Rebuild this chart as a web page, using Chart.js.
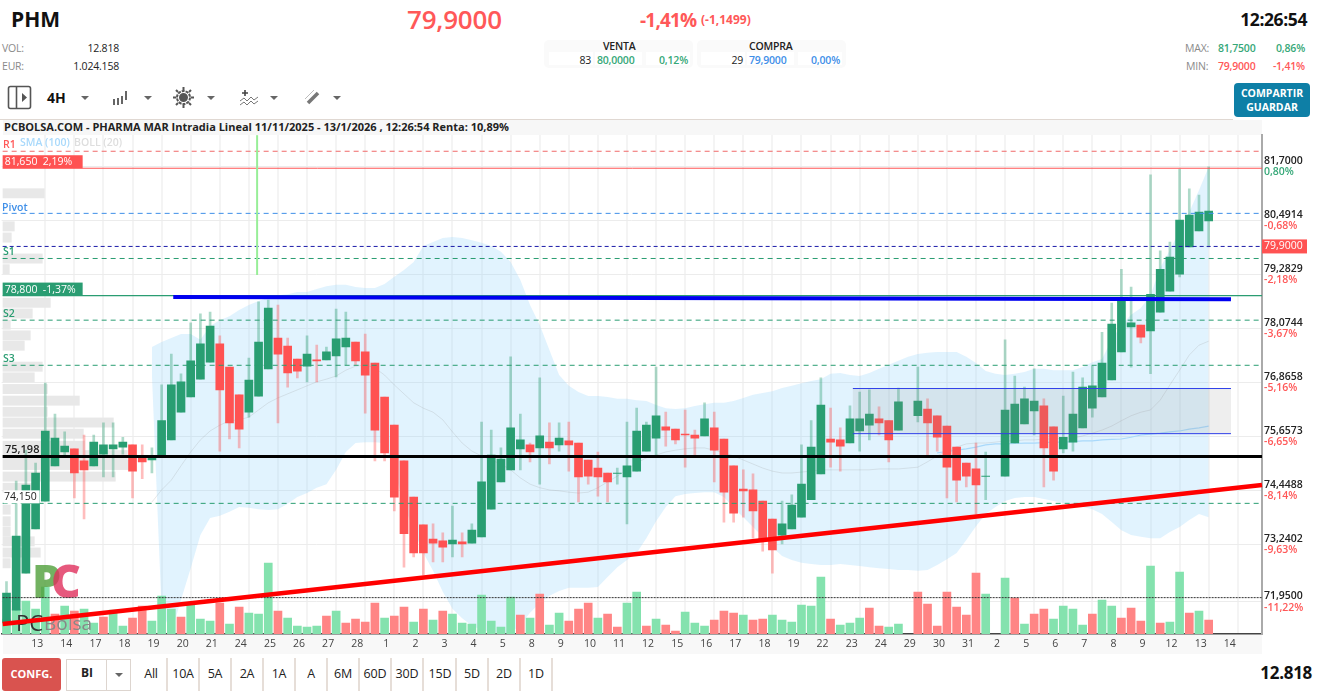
<!DOCTYPE html>
<html lang="es">
<head>
<meta charset="utf-8">
<title>PHM</title>
<script src="https://cdn.jsdelivr.net/npm/chart.js@4"></script>
<style>
    html, body { margin: 0; padding: 0; background: #fff; overflow: hidden; }
    #page { position: relative; width: 1325px; height: 693px; font-family: "Open Sans", sans-serif; color: #222; overflow: hidden; }
    #page span, #page div { position: absolute; white-space: nowrap; }
    .sm { font-size: 10.5px; line-height: 14px; letter-spacing: -0.2px; }
    .gray { color: #8a8a8a; }
    .green { color: #36a878; }
    .red { color: #ff5858; }
    .blue { color: #3f8fe8; }
    .panel { background: #fafafa; border-radius: 5px; top: 40px; height: 28px; width: 149px; }
    .cell { background: #fff; top: 52px; height: 13px; }
    .range { top: 658px; height: 33px; line-height: 31px; font-size: 12.5px; text-align: center; width: 32px; border-right: 2px solid #e6ded8; box-sizing: border-box; letter-spacing: -0.2px; }
    .caret { width: 0; height: 0; border-left: 4px solid transparent; border-right: 4px solid transparent; border-top: 4px solid #666; top: 96px; }
    canvas { position: absolute; left: 0; top: 120px; }
</style>
</head>
<body>
<div id="page">
    <span style="left:11px;top:5px;font-size:21px;line-height:28px;font-weight:700;color:#111">PHM</span>
    <span class="red" style="left:407px;top:3px;font-size:26px;line-height:32px;font-weight:600;letter-spacing:-0.2px">79,9000</span>
    <span class="red" style="left:640px;top:5px;font-size:19px;line-height:30px;font-weight:700;letter-spacing:-0.8px">-1,41%</span>
    <span class="red" style="left:701px;top:12px;font-size:12px;line-height:16px;font-weight:700">(-1,1499)</span>
    <span style="right:18px;top:8px;font-size:17.5px;line-height:22px;font-weight:700;color:#111;letter-spacing:-0.4px">12:26:54</span>

    <span class="sm gray" style="left:2px;top:41px">VOL:</span>
    <span class="sm" style="right:1206px;top:41px">12.818</span>
    <span class="sm gray" style="left:2px;top:59px">EUR:</span>
    <span class="sm" style="right:1206px;top:59px">1.024.158</span>

    <div class="panel" style="left:544px"></div>
    <div class="panel" style="left:697px"></div>
    <div class="cell" style="left:549px;width:44px"></div>
    <div class="cell" style="left:595px;width:47px"></div>
    <div class="cell" style="left:646px;width:44px"></div>
    <div class="cell" style="left:701px;width:44px"></div>
    <div class="cell" style="left:747px;width:47px"></div>
    <div class="cell" style="left:798px;width:44px"></div>
    <span class="sm" style="left:603px;top:39px;font-weight:600">VENTA</span>
    <span class="sm" style="left:749px;top:39px;font-weight:600">COMPRA</span>
    <span class="sm" style="right:734px;top:53px">83</span>
    <span class="sm green" style="left:597px;top:53px;font-weight:600">80,0000</span>
    <span class="sm green" style="right:637px;top:53px;font-weight:600">0,12%</span>
    <span class="sm" style="right:582px;top:53px">29</span>
    <span class="sm blue" style="left:749px;top:53px;font-weight:600">79,9000</span>
    <span class="sm blue" style="right:485px;top:53px;font-weight:600">0,00%</span>

    <span class="sm gray" style="left:1185px;top:41px">MAX:</span>
    <span class="sm green" style="left:1218px;top:41px;font-weight:600">81,7500</span>
    <span class="sm green" style="right:20px;top:41px;font-weight:600">0,86%</span>
    <span class="sm gray" style="left:1186px;top:59px">MIN:</span>
    <span class="sm red" style="left:1218px;top:59px;font-weight:600">79,9000</span>
    <span class="sm red" style="right:20px;top:59px;font-weight:600">-1,41%</span>

    <!-- barra de herramientas -->
    <svg style="position:absolute;left:7px;top:85px" width="26" height="25" viewBox="0 0 26 25" fill="none" stroke="#555" stroke-width="1.6"><rect x="1.5" y="1.5" width="22" height="22" rx="2"/><line x1="9.5" y1="2" x2="9.5" y2="23"/><path d="M15 8l5 4.5-5 4.5z" fill="#555" stroke="none"/></svg>
    <span style="left:47px;top:88px;font-size:14px;line-height:20px;font-weight:700;color:#111">4H</span>
    <div class="caret" style="left:81px"></div>
    <svg style="position:absolute;left:111px;top:88px" width="20" height="20" viewBox="0 0 20 20" fill="#666"><rect x="2" y="11" width="2" height="6"/><rect x="6" y="10" width="2" height="7"/><rect x="10" y="8" width="2" height="8"/><rect x="14" y="3" width="2" height="9"/></svg>
    <div class="caret" style="left:144px"></div>
    <svg style="position:absolute;left:172px;top:86px" width="23" height="23" viewBox="0 0 23 23" fill="none" stroke="#555" stroke-width="2"><circle cx="11.5" cy="11.5" r="6.5" stroke-dasharray="3 1"/><circle cx="11.5" cy="11.5" r="3.5" fill="#555"/><path d="M11.5 1v3M11.5 19v3M1 11.5h3M19 11.5h3M4 4l2 2M17 17l2 2M19 4l-2 2M6 17l-2 2"/></svg>
    <div class="caret" style="left:207px"></div>
    <svg style="position:absolute;left:239px;top:88px" width="20" height="20" viewBox="0 0 20 20" fill="none" stroke="#777" stroke-width="1"><path d="M1 13l4-3 3 3 4-4 3 3 4-3M1 17l4-3 3 3 4-4 3 3 4-3"/><path d="M6 2v6M3 5h6" stroke="#444" stroke-width="1.6"/></svg>
    <div class="caret" style="left:270px"></div>
    <svg style="position:absolute;left:303px;top:88px" width="19" height="19" viewBox="0 0 19 19" fill="none" stroke="#777" stroke-width="3.5"><path d="M5 15L15 5"/><path d="M2 11L11 2" stroke="#bbb" stroke-width="1"/></svg>
    <div class="caret" style="left:333px"></div>

    <div style="left:1234px;top:83px;width:76px;height:34px;background:#0e7fa6;border-radius:4px;color:#fff;font-size:10.5px;font-weight:700;line-height:14px;text-align:center;padding-top:3px;box-sizing:border-box;white-space:normal">COMPARTIR<br>GUARDAR</div>

    <div style="left:0;top:119px;width:1233px;height:1px;background:#e0d8d2"></div>
    <div style="left:3px;top:120px;width:1259px;height:15px;background:#f7f7f7"></div>
    <span class="sm" style="left:4px;top:120px;font-size:11px;font-weight:700;color:#222;letter-spacing:0">PCBOLSA.COM - PHARMA MAR Intradia Lineal 11/11/2025 - 13/1/2026 , 12:26:54 Renta: 10,89%</span>

    <div style="left:3px;top:634px;width:1259px;height:20px;background:#f8f8f8"></div>
    <canvas id="grafico" width="1325" height="534"></canvas>

    <!-- rangos de abajo -->
    <div style="left:2px;top:658px;width:59px;height:33px;background:#d9534f;border-radius:3px;color:#fff;font-size:11px;font-weight:700;line-height:31px;text-align:center">CONFG.</div>
    <div style="left:66px;top:659px;width:65px;height:32px;border:1px solid #ddd5cf;box-sizing:border-box"></div>
    <div style="left:106px;top:659px;width:1px;height:32px;background:#ddd5cf"></div>
    <span style="left:81px;top:664px;font-size:12px;line-height:18px;font-weight:700">BI</span>
    <div class="caret" style="left:115px;top:673px"></div>
    <div class="range" style="left:136px">All</div>
    <div class="range" style="left:168px">10A</div>
    <div class="range" style="left:200px">5A</div>
    <div class="range" style="left:232px">2A</div>
    <div class="range" style="left:264px">1A</div>
    <div class="range" style="left:296px">A</div>
    <div class="range" style="left:328px">6M</div>
    <div class="range" style="left:360px">60D</div>
    <div class="range" style="left:392px">30D</div>
    <div class="range" style="left:425px">15D</div>
    <div class="range" style="left:457px">5D</div>
    <div class="range" style="left:489px">2D</div>
    <div class="range" style="left:521px">1D</div>
    <span style="right:13px;top:661px;font-size:17px;line-height:24px;font-weight:700;color:#111;letter-spacing:-0.3px">12.818</span>
</div>

<script>
// Fechas del eje X, una cada tres velas
const dayLabels = ["13","14","17","18","19","20","21","24","25","26","27","28","1","2","3","4","5","8","9","10","11","12","15","16","17","18","19","22","23","24","29","30","31","2","5","6","7","8","9","12","13","14"];
const totalSlots = 130;

// Velas de 4H
const opens = [
    71.49,71.76,72.59,73.58,74.20,74.99,75.30,75.37,75.10,74.99,
    75.25,75.37,75.41,75.46,75.17,75.12,75.17,75.57,76.19,76.53,
    76.93,77.31,77.72,77.20,76.58,76.19,76.55,77.16,77.85,77.67,
    77.38,77.22,77.36,77.36,77.45,77.65,77.76,77.54,77.29,76.53,
    75.90,75.10,74.29,73.67,73.35,73.31,73.24,73.29,73.26,73.40,
    74.02,74.63,74.90,75.37,75.46,75.39,75.52,75.46,75.55,75.50,
    75.12,74.94,74.83,74.82,74.74,74.87,75.32,75.61,75.86,75.81,
    75.70,75.68,75.66,75.84,75.59,74.99,74.47,74.45,74.20,73.80,
    73.44,73.58,73.84,74.23,74.81,75.59,75.57,75.50,75.77,75.90,
    76.04,76.00,75.79,null,76.11,76.26,76.11,75.88,75.41,75.05,
    74.92,74.75,null,74.76,75.50,75.93,76.22,76.33,75.86,75.37,
    75.52,75.84,76.28,76.53,76.91,77.54,78.10,78.14,78.01,78.43,
    78.90,79.28,79.89,80.25,80.47
];
const closes = [
    72.14,73.42,74.56,74.83,75.77,75.61,75.43,74.83,74.90,75.52,
    75.46,75.46,75.52,74.87,75.08,75.19,76.00,76.80,76.87,77.34,
    77.72,78.12,76.69,75.95,75.81,76.91,77.76,78.52,77.49,77.07,
    77.11,77.49,77.34,77.54,77.83,77.85,77.34,77.02,75.79,75.28,
    74.29,73.47,73.04,73.04,73.26,73.17,73.33,73.24,73.55,74.63,
    75.23,75.14,75.84,75.57,75.30,75.66,75.39,75.61,75.46,74.74,
    74.76,74.74,74.63,74.83,74.99,75.77,75.90,76.11,75.79,75.57,
    75.68,75.61,76.04,75.34,74.40,73.93,74.43,73.98,73.35,73.11,
    73.69,74.11,74.58,75.41,76.35,75.52,75.43,76.04,76.04,76.15,
    75.95,75.57,76.42,null,76.44,75.95,75.63,74.96,74.67,74.76,
    74.56,74.76,null,76.24,76.37,76.49,76.44,75.39,74.87,75.63,
    76.15,76.75,76.78,77.29,78.16,78.75,78.19,77.87,78.83,79.39,
    79.66,80.49,80.60,80.67,80.69
];
const highs = [
    72.40,74.65,75.34,75.05,76.84,76.15,75.75,75.37,75.68,75.68,
    75.95,75.95,75.63,75.46,75.46,75.39,76.80,77.49,77.05,78.19,
    78.39,78.43,77.90,77.20,76.58,77.40,78.66,78.70,78.59,77.85,
    77.38,77.90,77.69,77.65,78.50,78.43,77.76,77.94,77.29,76.53,
    75.90,75.10,74.29,73.67,73.69,73.49,74.09,73.49,73.69,75.97,
    75.79,75.39,77.43,76.15,75.50,76.96,75.95,75.95,75.97,75.50,
    75.12,75.30,74.83,74.94,75.97,76.28,75.97,77.20,76.19,75.81,
    76.24,75.79,76.40,76.19,75.59,74.99,74.90,74.81,74.20,73.80,
    74.20,74.34,75.46,76.00,76.96,76.28,75.84,76.33,76.64,76.69,
    76.31,76.00,76.73,null,77.20,76.49,76.11,75.88,75.41,75.05,
    75.50,75.30,null,77.81,77.00,76.75,77.16,76.49,75.86,76.55,
    77.09,76.96,77.22,77.98,78.63,79.39,78.99,78.14,81.50,79.80,
    80.00,81.63,81.19,81.05,81.68
];
const lows = [
    71.43,71.76,72.59,73.58,74.20,74.99,75.19,74.27,73.80,74.99,
    74.74,74.74,75.25,74.27,74.70,74.83,75.17,75.57,76.19,76.53,
    76.93,77.31,75.32,75.59,75.39,76.08,76.55,77.16,75.95,76.75,
    76.96,76.87,76.87,77.36,76.98,77.25,77.25,76.17,75.10,75.10,
    73.98,72.72,72.95,72.55,72.84,72.84,72.95,72.95,73.26,73.40,
    74.02,74.63,74.90,74.90,75.08,74.58,75.03,75.32,74.87,74.18,
    74.58,74.31,74.18,74.58,73.69,74.87,75.32,75.19,75.43,75.48,
    74.96,75.21,75.66,74.63,73.73,73.73,73.84,73.37,73.08,72.59,
    73.24,73.58,73.84,74.23,74.81,74.96,74.87,75.50,75.32,75.57,
    75.68,75.08,75.79,null,75.97,75.23,75.32,74.27,74.18,74.52,
    73.91,74.23,null,74.76,75.50,75.93,75.68,74.52,74.67,75.28,
    75.32,75.84,76.08,76.53,76.91,77.54,77.20,77.74,77.05,78.43,
    78.90,79.22,79.89,80.25,79.89
];

// Volumen por vela (escala relativa) y su color: 1 verde, 0 rojo
const volumes = [
    15,25,33,25,47,20,28,23,25,11,
    17,24,8,16,28,13,38,25,17,29,
    15,13,31,10,27,21,20,71,23,16,
    8,7,8,18,23,11,15,12,31,16,
    18,27,12,25,14,23,20,11,10,39,
    13,7,37,19,16,40,9,21,13,25,
    31,16,20,7,31,42,8,15,9,3,
    22,11,8,14,23,21,19,14,15,19,
    14,12,29,28,57,15,9,11,16,26,
    8,7,10,null,42,30,8,42,27,19,
    61,40,null,56,36,10,20,25,15,28,
    25,9,20,34,28,16,26,13,68,11,
    12,62,21,23,14
];
const volumeUp = [
    1,1,1,1,1,0,1,0,1,1,
    0,1,1,0,0,1,1,1,0,1,
    1,1,0,1,0,1,1,1,0,1,
    1,1,1,0,1,0,0,0,0,1,
    0,0,1,0,1,0,1,1,1,1,
    1,1,1,0,1,0,1,1,0,0,
    0,1,0,0,1,1,0,1,0,0,
    1,1,1,0,0,0,1,0,0,1,
    1,1,1,1,1,0,1,1,1,0,
    0,1,1,1,0,0,0,0,0,0,
    0,1,1,1,0,1,0,0,1,1,
    1,1,0,1,1,0,0,0,1,0,
    1,1,0,1,0
];

// Bandas de Bollinger (20) y SMA (100), empiezan con la vela 15 y la 96
const bollUpper = [
    77.65,77.76,77.85,77.94,77.94,77.81,78.12,78.25,78.34,78.48,
    78.59,78.68,78.75,78.81,78.83,78.88,78.88,78.95,79.01,79.04,
    79.04,78.99,78.97,78.97,79.06,79.22,79.37,79.55,79.91,80.00,
    80.09,80.11,80.09,80.04,79.98,79.91,79.78,79.55,79.15,78.59,
    78.14,77.58,77.02,76.78,76.64,76.55,76.55,76.53,76.49,76.49,
    76.46,76.44,76.35,76.28,76.26,76.28,76.33,76.37,76.40,76.40,
    76.44,76.51,76.58,76.62,76.66,76.73,76.78,76.84,76.89,76.93,
    77.05,77.07,77.02,77.00,77.07,77.16,77.25,77.34,77.43,77.49,
    77.52,77.54,77.54,77.54,77.43,77.29,77.11,77.05,77.02,77.05,
    77.09,77.16,77.16,77.13,77.13,77.13,77.20,77.31,77.38,77.81,
    78.14,78.37,78.52,78.81,79.42,79.82,80.25,80.67,81.16,81.68
];
const bollLower = [
    77.02,71.76,71.25,71.99,72.70,73.44,73.82,73.87,73.96,74.07,
    74.05,74.02,74.00,74.02,74.14,74.29,74.38,74.50,74.58,74.90,
    75.30,75.50,75.52,75.52,75.50,74.90,74.11,73.55,73.04,72.64,
    72.17,71.79,71.58,71.41,71.32,71.27,71.25,71.25,71.43,71.70,
    71.92,72.08,72.19,72.26,72.26,72.26,72.28,72.50,72.72,72.88,
    73.04,73.37,73.75,74.07,74.31,74.36,74.38,74.40,74.40,74.29,
    74.05,73.84,73.62,73.40,73.17,72.97,72.88,72.82,72.79,72.77,
    72.77,72.79,72.77,72.75,72.72,72.70,72.68,72.66,72.66,72.64,
    72.66,72.77,72.90,73.04,73.33,73.64,73.91,74.07,74.20,74.27,
    74.29,74.29,74.25,74.20,74.16,74.11,74.07,74.02,73.91,73.73,
    73.55,73.44,73.40,73.37,73.37,73.51,73.62,73.78,73.91,73.84
];
const bollMiddle = [
    74.18,74.45,74.67,74.99,75.30,75.57,75.77,75.90,76.00,76.02,
    76.08,76.24,76.40,76.51,76.60,76.69,76.78,76.87,76.93,77.00,
    77.13,77.22,77.25,77.18,77.02,76.80,76.60,76.40,76.28,76.19,
    76.02,75.75,75.50,75.32,75.21,75.12,75.03,74.90,74.72,74.58,
    74.50,74.45,74.43,74.40,74.38,74.40,74.50,74.63,74.76,74.90,
    75.05,75.17,75.23,75.30,75.34,75.37,75.39,75.39,75.34,75.28,
    75.21,75.12,75.03,74.94,74.87,74.83,74.83,74.85,74.87,74.90,
    74.90,74.90,74.90,74.90,74.90,74.92,74.92,74.92,74.94,74.96,
    75.08,75.21,75.32,75.41,75.48,75.50,75.50,75.52,75.55,75.55,
    75.57,75.57,75.59,75.59,75.61,75.61,75.66,75.72,75.79,75.88,
    76.00,76.11,76.19,76.24,76.46,76.80,77.13,77.47,77.69,77.78
];
const sma100 = [
    75.28,75.31,75.34,75.37,75.41,75.46,75.48,75.48,75.49,75.50,
    75.50,75.51,75.52,75.52,75.53,75.55,75.55,75.57,75.58,75.59,
    75.63,75.68,75.70,75.72,75.75,75.77,75.81,75.84,75.88
];

// Eje de precios
const priceTicks = [81.7, 80.4914, 79.2829, 78.0744, 76.8658, 75.6573, 74.4488, 73.2402, 71.95];
const tickChanges = ["0,80%","-0,68%","-2,18%","-3,67%","-5,16%","-6,65%","-8,14%","-9,63%","-11,22%"];
const priceMin = 71.226;
const priceMax = 82.394;
const lastPrice = 79.9;

// Niveles horizontales
const r1Level = 82.03;
const maxLevel = 81.65;
const pivotLevel = 80.64;
const s1Level = 79.63;
const openLevel = 78.8;
const s2Level = 78.25;
const s3Level = 77.24;
const blackLevel = 75.198;
const minLevel = 74.15;
const lowDotted = 72.04;

// Lineas dibujadas a mano sobre el grafico: [indice, precio]
const blueLine = [[17.2, 78.77], [126.3, 78.72]];
const redLine = [[-0.4, 71.45], [129.5, 74.56]];
const boxRange = [[87.3, 76.72], [126.3, 75.71]];
const greenSpike = [[25.85, 79.26], [25.85, 82.39]];

// Perfil de volumen a la izquierda, escala propia de 0 a profileMax a lo ancho del grafico
const profilePrices = [81.08,80.34,80.09,79.62,79.38,78.63,78.39,78.14,77.90,77.67,77.20,76.96,76.70,76.44,76.19,75.95,75.70,75.43,75.22,75.00,74.74,74.49,74.00,73.74,73.51,73.29,73.04,72.80];
const profileVolumes = [42,12,9,40,7,48,30,8,28,22,40,32,45,77,45,111,81,82,125,128,113,36,8,8,8,32,38,8];
const profileStep = 0.24;
const profileMax = 1260;

const xLabels = Array.from({ length: totalSlots }, (_, i) => (i >= 4 && i % 3 === 1) ? dayLabels[(i - 4) / 3] : "");
const padded = (arr, from) => Array(from).fill(null).concat(arr);

const bodies = opens.map((o, i) => o === null ? null : [o, closes[i]]);
const wicks = highs.map((h, i) => h === null ? null : [lows[i], h]);
const isUp = opens.map((o, i) => closes[i] >= o);

const FONT = '"Open Sans", sans-serif';

function segment(ctx, chart, points, color, width, dash) {
    const { x, y } = chart.scales;
    ctx.save();
    ctx.strokeStyle = color;
    ctx.lineWidth = width;
    ctx.setLineDash(dash || []);
    ctx.beginPath();
    ctx.moveTo(x.getPixelForValue(points[0][0]), y.getPixelForValue(points[0][1]));
    ctx.lineTo(x.getPixelForValue(points[1][0]), y.getPixelForValue(points[1][1]));
    ctx.stroke();
    ctx.restore();
}

function level(ctx, chart, price, color, width, dash) {
    const { left, right } = chart.chartArea;
    const py = chart.scales.y.getPixelForValue(price);
    ctx.save();
    ctx.strokeStyle = color;
    ctx.lineWidth = width;
    ctx.setLineDash(dash || []);
    ctx.beginPath();
    ctx.moveTo(left + 1, py);
    ctx.lineTo(right, py);
    ctx.stroke();
    ctx.restore();
}

function label(ctx, text, px, py, color, font) {
    ctx.font = font || `600 10.5px ${FONT}`;
    ctx.fillStyle = color;
    ctx.textAlign = "left";
    ctx.textBaseline = "middle";
    ctx.fillText(text, px, py);
}

function priceTag(ctx, chart, price, text, bg) {
    const { left } = chart.chartArea;
    const py = chart.scales.y.getPixelForValue(price);
    ctx.fillStyle = bg;
    ctx.fillRect(left + 1, py - 13, 80, 13);
    label(ctx, text, left + 3, py - 6, "#fff", `10.5px ${FONT}`);
}

const overlayPlugin = {
    id: "overlay",
    beforeDatasetsDraw(chart) {
        const { ctx, chartArea } = chart;
        const y = chart.scales.y;
        // Perfil de volumen
        ctx.fillStyle = "#e8e8e8";
        profilePrices.forEach((p, i) => {
            const top = y.getPixelForValue(p + profileStep / 2);
            const bottom = y.getPixelForValue(p - profileStep / 2);
            const width = profileVolumes[i] / profileMax * chartArea.width;
            ctx.fillRect(chartArea.left + 1, top, width, bottom - top - 0.8);
        });
    },
    afterDatasetsDraw(chart) {
        const { ctx, chartArea } = chart;
        const { x, y } = chart.scales;

        // Logo y marca de agua
        ctx.save();
        ctx.globalAlpha = 0.8;
        label(ctx, "P", 32, 465, "#4f9f3a", `900 46px ${FONT}`);
        label(ctx, "C", 51, 465, "#e0305c", `900 46px ${FONT}`);
        ctx.globalAlpha = 1;
        label(ctx, "PC", 16, 505, "#333", `22px ${FONT}`);
        label(ctx, "Bolsa", 44, 505, "#888", `19px ${FONT}`);
        ctx.restore();

        // Caja entre las dos lineas azules
        const bx0 = x.getPixelForValue(boxRange[0][0]);
        const bx1 = x.getPixelForValue(boxRange[1][0]);
        const by0 = y.getPixelForValue(boxRange[0][1]);
        const by1 = y.getPixelForValue(boxRange[1][1]);
        ctx.fillStyle = "rgba(140,140,140,0.15)";
        ctx.fillRect(bx0, by0, bx1 - bx0, by1 - by0);
        segment(ctx, chart, [[boxRange[0][0], boxRange[0][1]], [boxRange[1][0], boxRange[0][1]]], "#2f3fe8", 1);
        segment(ctx, chart, [[boxRange[0][0], boxRange[1][1]], [boxRange[1][0], boxRange[1][1]]], "#2f3fe8", 1);

        level(ctx, chart, r1Level, "#f06a6a", 1, [5, 4]);
        level(ctx, chart, maxLevel, "#ff5252", 1);
        level(ctx, chart, pivotLevel, "#3f8fe8", 1, [5, 4]);
        level(ctx, chart, lastPrice, "#1a1aa8", 1, [4, 3]);
        level(ctx, chart, s1Level, "#2a9d72", 1, [5, 4]);
        level(ctx, chart, openLevel, "#2a9d72", 1.2);
        level(ctx, chart, s2Level, "#2a9d72", 1, [5, 4]);
        level(ctx, chart, s3Level, "#2a9d72", 1, [5, 4]);
        level(ctx, chart, minLevel, "#2a9d72", 1, [5, 4]);
        level(ctx, chart, lowDotted, "#333", 1, [2, 1]);

        segment(ctx, chart, greenSpike, "#98ee98", 2);
        segment(ctx, chart, blueLine, "#0000f0", 4);
        level(ctx, chart, blackLevel, "#000", 3);
        segment(ctx, chart, redLine, "#ff0000", 4.5);

        // Textos dentro del grafico
        label(ctx, "R1", 3, y.getPixelForValue(r1Level) - 6, "#ff5858");
        label(ctx, "SMA (100)", 20, 23, "#a9d9fb");
        label(ctx, "BOLL (20)", 74, 23, "#dedede");
        priceTag(ctx, chart, maxLevel, "81,650  2,19%", "#ff5252");
        label(ctx, "Pivot", 2, y.getPixelForValue(pivotLevel) - 5, "#3f8fe8");
        label(ctx, "S1", 3, y.getPixelForValue(s1Level) - 6, "#2a9d72");
        priceTag(ctx, chart, openLevel, "78,800  -1,37%", "#2a9d72");
        label(ctx, "S2", 3, y.getPixelForValue(s2Level) - 6, "#2a9d72");
        label(ctx, "S3", 3, y.getPixelForValue(s3Level) - 6, "#2a9d72");
        label(ctx, "75,198", 5, y.getPixelForValue(blackLevel) - 7, "#222", `600 11px ${FONT}`);
        const minY = y.getPixelForValue(minLevel);
        ctx.fillStyle = "#fff";
        ctx.fillRect(chartArea.left + 2, minY - 13, 36, 13);
        label(ctx, "74,150", 4, minY - 6.5, "#222", `10.5px ${FONT}`);

        // Variacion % bajo cada precio del eje
        priceTicks.forEach((p, i) => {
            const color = i === 0 ? "#36a878" : "#ff5858";
            label(ctx, tickChanges[i], chartArea.right + 2, y.getPixelForValue(p) + 6, color);
        });

        // Etiqueta del ultimo precio
        const lastY = y.getPixelForValue(lastPrice);
        ctx.fillStyle = "#ff5252";
        ctx.fillRect(chartArea.right, lastY - 7, 45, 14);
        label(ctx, "79,9000", chartArea.right + 2, lastY, "#fff", `10.5px ${FONT}`);
    }
};

new Chart(document.getElementById("grafico"), {
    type: "bar",
    plugins: [overlayPlugin],
    data: {
        labels: xLabels,
        datasets: [
            {
                label: "Mecha",
                data: wicks,
                backgroundColor: isUp.map(up => up ? "rgba(42,157,114,0.38)" : "rgba(255,82,82,0.38)"),
                barThickness: 2,
                grouped: false,
                order: 4
            },
            {
                label: "Vela",
                data: bodies,
                backgroundColor: isUp.map(up => up ? "#299e72" : "#ff5252"),
                barThickness: 8,
                grouped: false,
                order: 3
            },
            {
                label: "Volumen",
                data: volumes,
                yAxisID: "y1",
                backgroundColor: volumeUp.map(up => up ? "#84e2ae" : "#ff8585"),
                barThickness: 8,
                grouped: false,
                order: 7
            },
            {
                type: "line",
                label: "BOLL sup",
                data: padded(bollUpper, 15),
                borderWidth: 0,
                pointRadius: 0,
                fill: "+1",
                backgroundColor: "rgba(135,206,250,0.25)",
                order: 9
            },
            {
                type: "line",
                label: "BOLL inf",
                data: padded(bollLower, 15),
                borderWidth: 0,
                pointRadius: 0,
                order: 9
            },
            {
                type: "line",
                label: "BOLL (20)",
                data: padded(bollMiddle, 15),
                borderColor: "rgba(150,150,150,0.22)",
                borderWidth: 1,
                pointRadius: 0,
                order: 6
            },
            {
                type: "line",
                label: "SMA (100)",
                data: padded(sma100, 96),
                borderColor: "#a9d9fb",
                borderWidth: 1.2,
                pointRadius: 0,
                order: 6
            }
        ]
    },
    options: {
        responsive: false,
        animation: false,
        devicePixelRatio: 1,
        layout: { padding: { top: 15, left: 1.65, right: 0, bottom: 0 } },
        plugins: { legend: { display: false }, tooltip: { enabled: false } },
        scales: {
            x: {
                offset: true,
                afterFit: s => { s.height = 20; },
                grid: {
                    offset: false,
                    drawTicks: false,
                    lineWidth: 2,
                    color: c => (c.tick && c.tick.label) ? "#f4f4f4" : "transparent"
                },
                border: { color: "#444", width: 1.5 },
                ticks: {
                    autoSkip: false,
                    maxRotation: 0,
                    padding: 4,
                    labelOffset: -8,
                    color: "#444",
                    font: { family: FONT, size: 10.5 }
                }
            },
            y: {
                position: "right",
                min: priceMin,
                max: priceMax,
                afterFit: s => { s.width = 63; },
                afterBuildTicks: s => { s.ticks = priceTicks.map(v => ({ value: v })); },
                grid: { drawTicks: false, color: "#ececec", lineWidth: 1 },
                border: { color: "#aaaaaa", width: 2 },
                ticks: {
                    padding: 2,
                    color: "#222",
                    font: { family: FONT, size: 10.5, weight: "600", lineHeight: 1 },
                    callback: v => [v.toFixed(4).replace(".", ","), " "]
                }
            },
            y1: { display: false, min: 0, max: 499 }
        }
    }
});
</script>
</body>
</html>
